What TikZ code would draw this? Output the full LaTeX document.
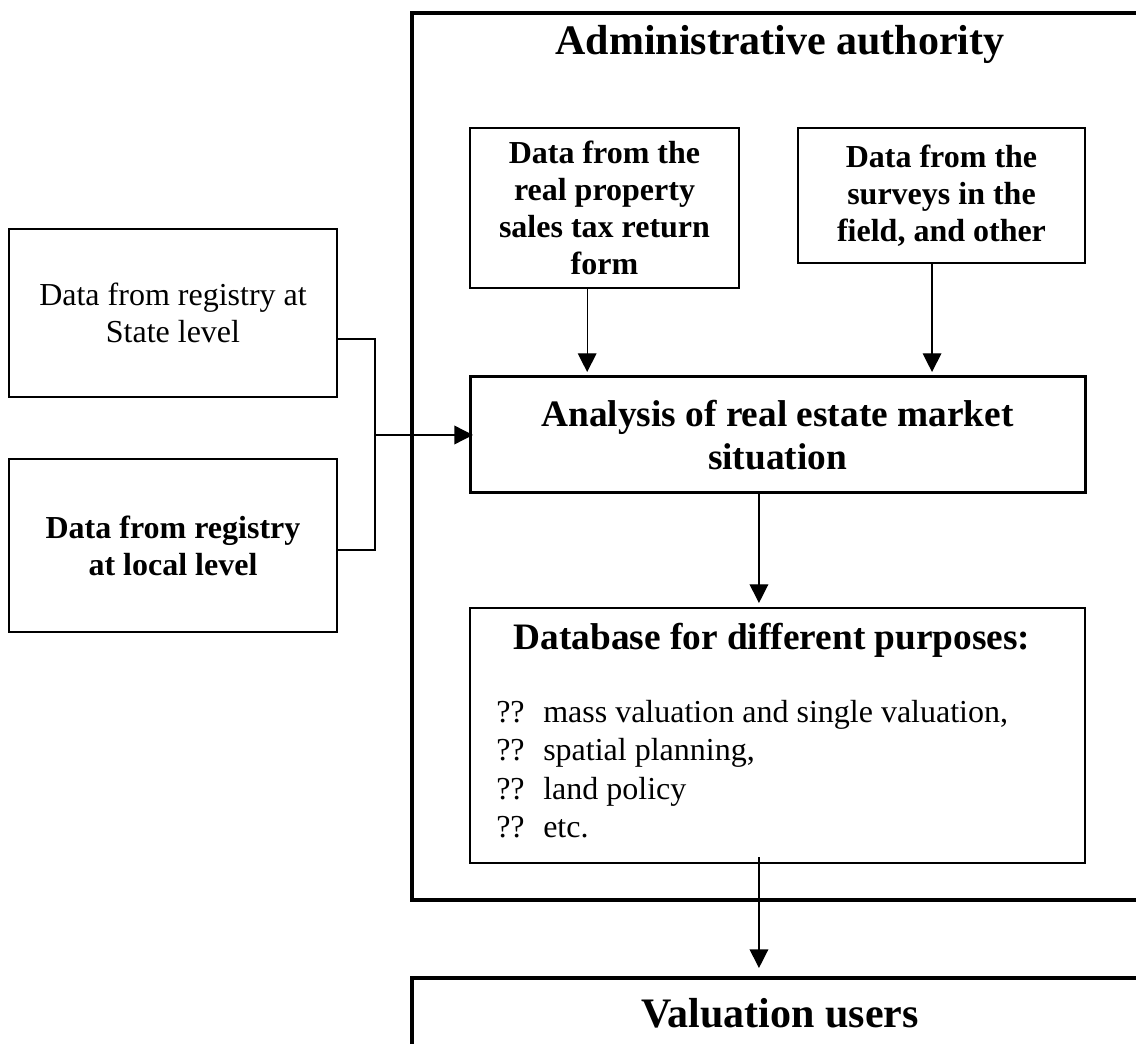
\documentclass[tikz,border=0pt]{standalone}
\usepackage{fontspec}
\setmainfont{Liberation Serif}
\usetikzlibrary{arrows.meta}

\newcommand\plaintext{\fontsize{24}{27.5}\selectfont}
\newcommand\boldtext{\fontsize{24}{27.75}\selectfont\bfseries}
\newcommand\headtext{\fontsize{28}{32.25}\selectfont\bfseries}
\newcommand\titletext{\fontsize{31.5}{36}\selectfont\bfseries}

\begin{document}
\begin{tikzpicture}[x=0.75pt, y=-0.75pt,
		thinbox/.style={draw, line width=1.1pt, inner sep=0pt, outer sep=0pt, align=center, anchor=north west},
		thickbox/.style={draw, line width=2.25pt, inner sep=0pt, outer sep=0pt, align=center, anchor=north west},
		frame/.style={draw, line width=3.6pt, minimum width=552pt, inner xsep=0pt, outer sep=0pt, text height=22pt, anchor=north west, font=\titletext},
		conn/.style={line width=1pt},
		arr/.style={line width=1pt, -{Triangle[length=14pt,width=14pt]}}]
		\useasboundingbox (0,0) rectangle (1136,1044);

		% authority frame and users box run off the page on the right
		\node[frame, inner ysep=9.5pt, text depth=624.25pt] (admin) at (412,13) {Administrative authority};
		\node[frame, inner ysep=14.75pt, text depth=60pt] (users) at (412,978) {Valuation users};

		% registry sources
		\node[thinbox, minimum width=246pt, minimum height=126pt, font=\plaintext] (state) at (9,229) {Data from registry at\\State level};
		\node[thinbox, minimum width=246pt, minimum height=129.75pt, font=\boldtext] (local) at (9,459) {Data from registry\\at local level};

		% inside the authority
		\node[thinbox, minimum width=201.75pt, minimum height=120pt, font=\boldtext] (sales) at (470,128) {Data from the\\real property\\sales tax return\\form};
		\node[thinbox, minimum width=215.25pt, minimum height=101.25pt, font=\boldtext] (survey) at (798,128) {Data from the\\surveys in the\\field, and other};
		\node[thickbox, minimum width=461.25pt, minimum height=87pt, font=\headtext] (ana) at (470,377) {Analysis of real estate market\\situation};
		\node[thinbox, minimum width=461.25pt, minimum height=191.25pt] (db) at (470,608) {};
		\node[anchor=base, inner sep=0pt, font=\headtext] (dbhead) at (772,650) {Database for different purposes:};
		\node[anchor=base west, inner sep=0pt, font=\fontsize{24}{29}\selectfont] (dblist) at (496,722) {%
			\begin{tabular}[t]{@{}l@{}}
				\makebox[35.25pt][l]{??}mass valuation and single valuation,\\
				\makebox[35.25pt][l]{??}spatial planning,\\
				\makebox[35.25pt][l]{??}land policy\\
				\makebox[35.25pt][l]{??}etc.
			\end{tabular}};

		% connectors
		\coordinate (join) at (375,435);
		\draw[conn] ([yshift=-19.5pt]state.east) -| (join) |- ([yshift=-3.4pt]local.east);
		\draw[arr, shorten >=-2.25pt] (join) -- (ana.west);
		\draw[arr, shorten >=3.75pt] ([xshift=-13pt]sales.south) -- ([xshift=-13pt]sales.south |- ana.north);
		\draw[arr, shorten >=3.75pt] ([xshift=-7.1pt]survey.south) -- ([xshift=-7.1pt]survey.south |- ana.north);
		\draw[arr, shorten >=3.75pt] ([xshift=-13.9pt]ana.south) -- ([xshift=-13.9pt]ana.south |- db.north);
		\draw[arr, shorten >=7.5pt] ([xshift=-13.9pt, yshift=4.5pt]db.south) -- ([xshift=-13.9pt]db.south |- users.north);
	\end{tikzpicture}
\end{document}
